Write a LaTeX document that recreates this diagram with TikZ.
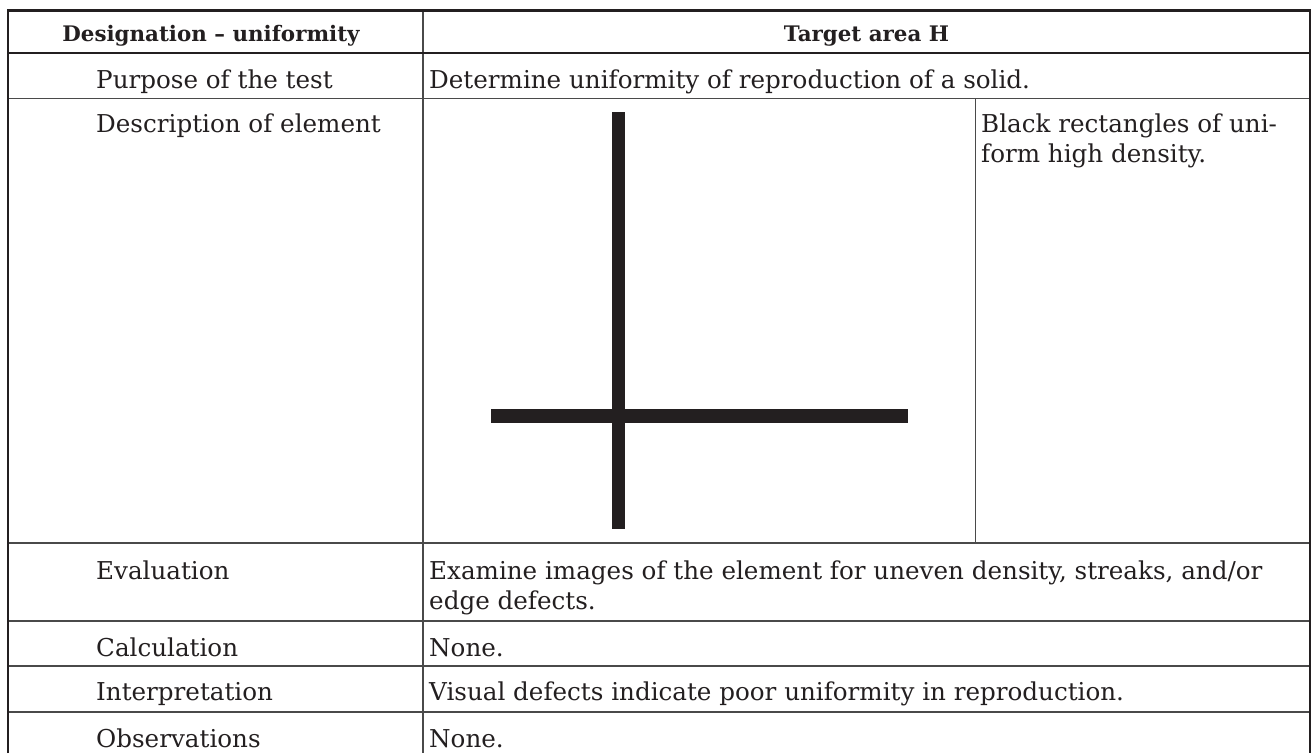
\documentclass[tikz,border=0pt]{standalone}
\usepackage{fontspec}
\setmainfont{DejaVu Serif}
\definecolor{ink}{HTML}{231F20}
\definecolor{rulegray}{HTML}{4A4A4A}
\begin{document}
\begin{tikzpicture}[x=1pt,y=-1pt,
  frame/.style={draw=ink,line width=2.5pt},
  rule/.style={draw=rulegray,line width=1.1pt},
  cell/.style={anchor=base west,inner sep=0pt,font=\fontsize{24.6}{30}\selectfont,text=ink},
  head/.style={anchor=base,inner sep=0pt,font=\fontsize{21.4}{30}\selectfont\bfseries,text=ink},
  bar/.style={fill=ink,draw=none}]
\useasboundingbox (0,0) rectangle (1315,753);

% inner horizontal rules
\draw[rule] (8,98.3) -- (1310,98.3);
\draw[rule] (8,543) -- (1310,543);
\draw[rule] (8,621) -- (1310,621);
\draw[rule] (8,666) -- (1310,666);
\draw[rule] (8,712) -- (1310,712);
% column rules
\draw[rule] (423,10.5) -- (423,753);
\draw[rule] (975.7,98.3) -- (975.7,543);
% header rule and outer frame (open at the foot)
\draw[frame] (8,52.8) -- (1310,52.8);
\draw[frame] (8,753) -- (8,10.5) -- (1310,10.5) -- (1310,753);

% header
\node[head] (hdA) at (211,41.5) {Designation – uniformity};
\node[head] (hdB) at (866.5,41.5) {Target area H};

% first column
\node[cell] (lPurp) at (96,88.3) {Purpose of the test};
\node[cell] (lDesc) at (96,132) {Description of element};
\node[cell] (lEval) at (96,579) {Evaluation};
\node[cell] (lCalc) at (96,656) {Calculation};
\node[cell] (lInt)  at (96,700) {Interpretation};
\node[cell] (lObs)  at (96,747) {Observations};

% second column
\node[cell] (tPurp) at (429,88.3) {Determine uniformity of reproduction of a solid.};
\node[cell] (tDescA) at (981,132) {Black rectangles of uni-};
\node[cell] (tDescB) at (981,162) {form high density.};
\node[cell] (tEvalA) at (429,579) {Examine images of the element for uneven density, streaks, and/or};
\node[cell] (tEvalB) at (429,609) {edge defects.};
\node[cell] (tCalc) at (429,656) {None.};
\node[cell] (tInt)  at (429,700) {Visual defects indicate poor uniformity in reproduction.};
\node[cell] (tObs)  at (429,747) {None.};

% test element: crossing black bars
\fill[bar] (611.7,111.7) rectangle (625,529);
\fill[bar] (491,409.3) rectangle (908,422.7);
\end{tikzpicture}
\end{document}
